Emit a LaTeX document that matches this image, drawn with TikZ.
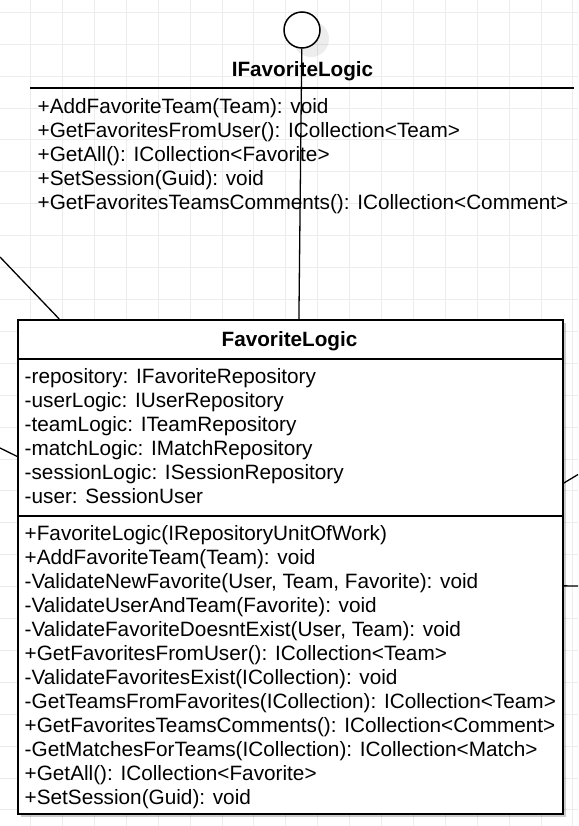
\documentclass[tikz,border=0pt]{standalone}
\usepackage{fontspec}
\setmainfont{Liberation Sans}
\usetikzlibrary{shadows}
\definecolor{gridgray}{RGB}{236,236,236}
\tikzset{
  {grid line/.style} ={gridgray, line width=1pt},
  {umlline/.style} ={draw, line width=1.5pt, black},
  {link/.style} ={draw, line width=1.3pt, black},
  {lollipop/.style} ={circle, draw, line width=1.5pt, fill=white,
                  minimum size=36pt, inner sep=0,
                  drop shadow={shadow xshift=9pt, shadow yshift=-9pt,
                  opacity=.07, fill=black}},
  {classbox/.style} ={rectangle, draw, line width=1.5pt, fill=white,
                  anchor=north west, minimum width=545pt,
                  minimum height=494pt, inner sep=0,
                  drop shadow={shadow xshift=3pt, shadow yshift=-3pt,
                  opacity=.2, fill=black}},
  {classtitle/.style} ={font=\fontsize{20.7}{24}\selectfont\bfseries,
                  inner sep=0},
  {members/.style} ={anchor=west, align=left, inner xsep=7.5pt,
                  inner ysep=0, font=\fontsize{20.75}{24}\selectfont},
}

\begin{document}
\begin{tikzpicture}[x=1pt,y=-1pt]
    \useasboundingbox (0,0) rectangle (578,826);
    % grid
    \foreach \i in {0,...,17}
      \draw[grid line] (30.6+31.9*\i,0) -- (30.6+31.9*\i,826);
    \foreach \i in {0,...,25}
      \draw[grid line] (0,12.4+31.9*\i) -- (578,12.4+31.9*\i);

    \node[classbox] (favlogic) at (17,319) {};
    \node[classtitle] (fltitle) at (289.5,341.2) {FavoriteLogic};
    \draw[umlline] (17,359) -- (562,359);
    \draw[umlline] (17,516) -- (562,516);
    \node[members] (flattrs) at (17,435.8) {-repository: IFavoriteRepository\\
      -userLogic: IUserRepository\\ -teamLogic: ITeamRepository\\
      -matchLogic: IMatchRepository\\ -sessionLogic: ISessionRepository\\
      -user: SessionUser};
    \node[members] (flops) at (17,667.6) {+FavoriteLogic(IRepositoryUnitOfWork)\\
      +AddFavoriteTeam(Team): void\\
      -ValidateNewFavorite(User, Team, Favorite): void\\
      -ValidateUserAndTeam(Favorite): void\\
      -ValidateFavoriteDoesntExist(User, Team): void\\
      +GetFavoritesFromUser(): ICollection<Team>\\
      -ValidateFavoritesExist(ICollection): void\\
      -GetTeamsFromFavorites(ICollection): ICollection<Team>\\
      +GetFavoritesTeamsComments(): ICollection<Comment>\\
      -GetMatchesForTeams(ICollection): ICollection<Match>\\
      +GetAll(): ICollection<Favorite>\\
      +SetSession(Guid): void};

    \node[lollipop] (lolli) at (302,30) {};
    \node[classtitle] (iface) at (302.5,70.8) {IFavoriteLogic};
    \draw[umlline] (30,88) -- (574,88);
    \node[members] (ifaceops) at (30,156.2) {+AddFavoriteTeam(Team): void\\
      +GetFavoritesFromUser(): ICollection<Team>\\
      +GetAll(): ICollection<Favorite>\\
      +SetSession(Guid): void\\
      +GetFavoritesTeamsComments(): ICollection<Comment>};

    \coordinate (outnw) at (0,257);
    \coordinate (outw) at (0,448);
    \coordinate (oute) at (578,474.5);
    \coordinate (outse) at (578,586);
    \draw[link] (outnw) -- (favlogic.133.5);
    \draw[link] (outw) -- (favlogic.158.4);
    \draw[link] (oute) -- (favlogic.17.6);
    \draw[link] (outse) -- (favlogic.356);
    \draw[link] (lolli) -- (favlogic.88.7);
\end{tikzpicture}
\end{document}
